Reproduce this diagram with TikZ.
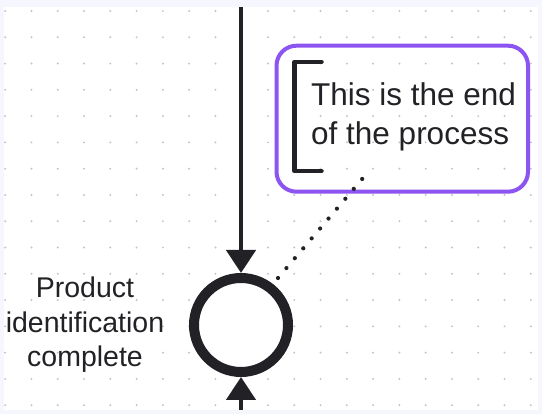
\documentclass[tikz,border=0pt]{standalone}
\usepackage{fontspec}
\setmainfont{Liberation Sans}
\usetikzlibrary{arrows.meta,calc}
\definecolor{bgout}{HTML}{F6F7FE}
\definecolor{dotc}{HTML}{C4C4C8}
\definecolor{ink}{HTML}{222226}
\definecolor{notec}{HTML}{8C55F2}
\tikzset{
  flow/.style={draw=ink, line width=4.5pt, -{Triangle[width=29pt,length=23pt]}},
  endevent/.style={circle, draw=ink, line width=10pt, minimum size=94pt, inner sep=0pt, fill=white},
  notebox/.style={draw=notec, line width=4pt, rounded corners=20pt},
  bracket/.style={draw=ink, line width=4.5pt, line cap=round, line join=round},
  assoc/.style={draw=ink, line width=4.2pt, line cap=round, dash pattern=on 0pt off 13pt},
  lbl/.style={font=\fontsize{28.5}{34.5}\selectfont, text=ink, align=center, inner sep=0pt},
  notetext/.style={font=\fontsize{31.5}{38.5}\selectfont, text=ink, align=left, inner sep=0pt, anchor=west}
}
\begin{document}
\begin{tikzpicture}[x=1pt,y=-1pt]
\useasboundingbox (0,0) rectangle (542,414);
\fill[bgout] (0,0) rectangle (542,414);
\fill[white] (3.5,7) rectangle (538,410);
\foreach \i in {0,...,20}{
  \foreach \j in {0,...,15}{
    \fill[dotc] (5.2+\i*26.28, 11+\j*26.28) circle (1.1pt);
  }
}
% note box
\draw[notebox] (276.5,45.7) rectangle (528,191.7);
\draw[bracket] (321.5,62) -- (294.5,62) -- (294.5,171) -- (321.5,171);
\node[notetext] (note) at (311,117) {This is the end\\of the process};
% end event
\node[endevent] (end) at (241,325) {};
\coordinate (topin) at (241,7);
\coordinate (botin) at (241,410);
\draw[flow] (topin) -- (end);
\draw[flow] (botin) -- (end);
\node[lbl] (endlbl) at (85,325) {Product\\identification\\complete};
% association
\coordinate (assocstart) at ($(end.center)+(37,-47)$);
\coordinate (assocend) at (363,178);
\draw[assoc] (assocstart) -- (assocend);
\end{tikzpicture}
\end{document}
